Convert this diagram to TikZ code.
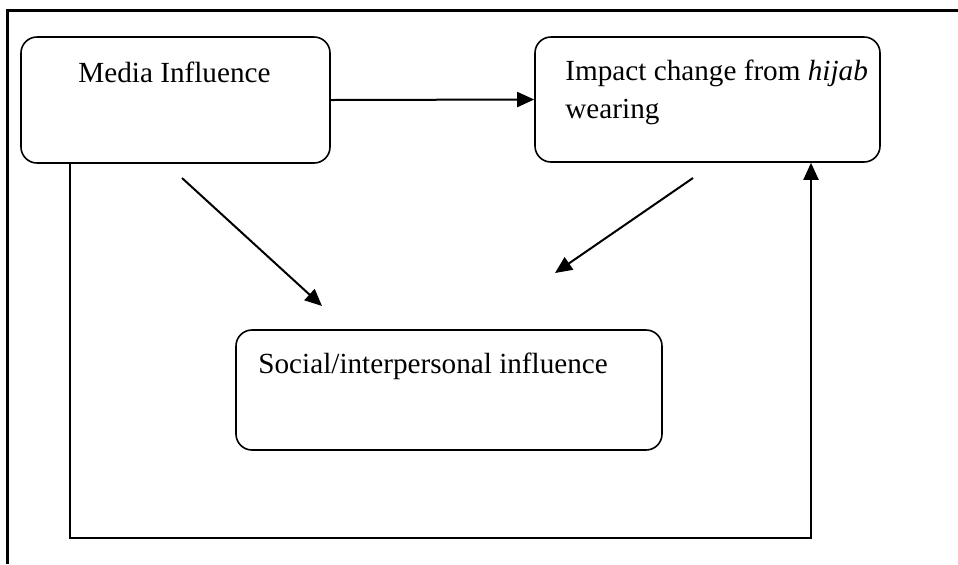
\documentclass[tikz,border=0pt]{standalone}
\usepackage{fontspec}
\setmainfont{Liberation Serif}
\usetikzlibrary{arrows.meta,positioning,calc}

\tikzset{
  box/.style={draw, line width=0.8pt, rounded corners=8pt, inner sep=0pt},
  lbl/.style={anchor=base west, inner sep=0pt, align=left,
    font=\fontsize{14.6}{19}\selectfont},
  link/.style={line width=1pt, -{Triangle[length=8.5pt,width=7.5pt]}},
  frame/.style={line width=1.5pt}
}

\begin{document}
\begin{tikzpicture}[x=0.5pt, y=-0.5pt]
    \useasboundingbox (0,0) rectangle (958,564);

    % Outer frame
    \draw[frame] (958,10) -- (7,10) -- (7,564);

    % Boxes
    \node[box, minimum width=154.5pt, minimum height=63pt] (media) at (175.5,100) {};
    \node[box, minimum width=172.5pt, minimum height=62.5pt] (impact) at (707.5,99.5) {};
    \node[box, minimum width=213pt, minimum height=60pt] (social) at (449,390) {};

    % Labels (base = last line)
    \node[lbl] (mediaText) at (78,82) {Media Influence};
    \node[lbl] (impactText) at (565,118) {Impact change from \textit{hijab}\\wearing};
    \node[lbl] (socialText) at (258,373) {Social/interpersonal influence};

    % Free arrow ends
    \coordinate (mediaOut) at (182,178);
    \coordinate (mediaIn) at (322,306);
    \coordinate (impactOut) at (693,178);
    \coordinate (impactIn) at (555,273);
    \coordinate (loopL) at (70,538);
    \coordinate (loopR) at (811,538);

    % Arrows
    \draw[link] (media.east) -- (impact.west);
    \draw[link] (mediaOut) -- (mediaIn);
    \draw[link] (impactOut) -- (impactIn);
    \draw[link] (loopL |- media.south) -- (loopL) -- (loopR) -- (loopR |- impact.south);
\end{tikzpicture}
\end{document}
